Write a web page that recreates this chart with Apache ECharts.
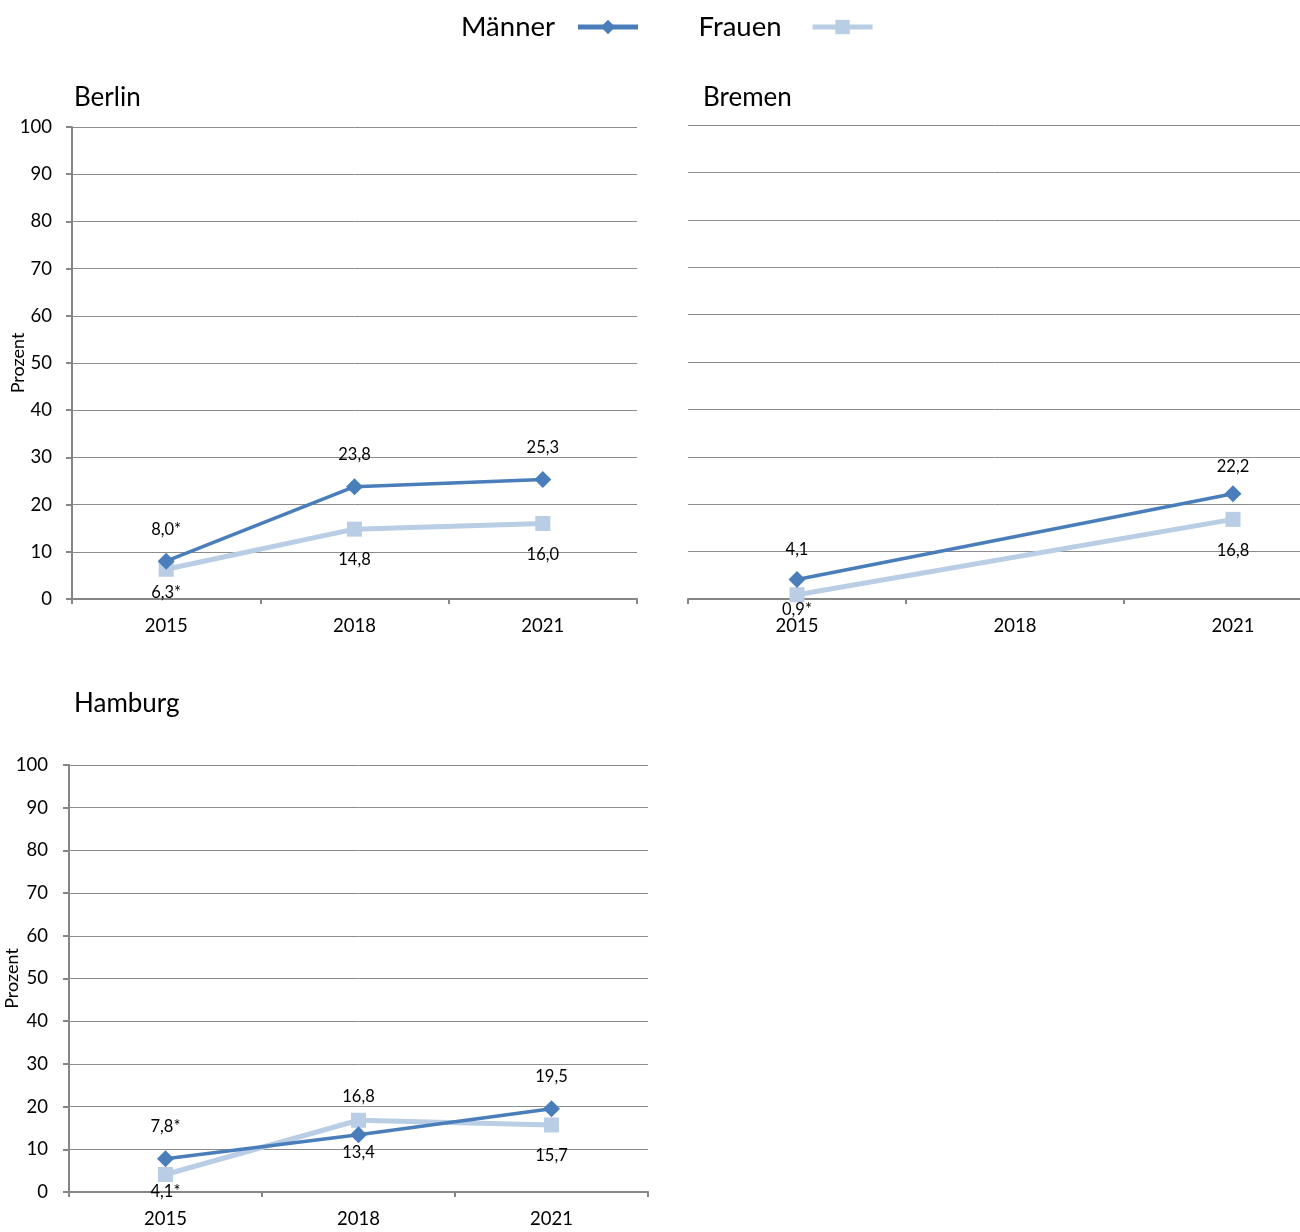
<!DOCTYPE html>
<html><head><meta charset="utf-8">
<script src="https://cdn.jsdelivr.net/npm/echarts@6/dist/echarts.min.js"></script>
<style>html,body{margin:0;padding:0;background:#fff}#c{width:1300px;height:1232px}</style>
</head><body><div id="c"></div>
<script>
// ---- data ----
const years = ['2015', '2018', '2021'];
const panelNames = ['Berlin', 'Bremen', 'Hamburg'];
const seriesNames = ['Männer', 'Frauen'];
const berlinMaenner = [8.0, 23.8, 25.3];
const berlinFrauen = [6.3, 14.8, 16.0];
const bremenMaenner = [4.1, null, 22.2];
const bremenFrauen = [0.9, null, 16.8];
const hamburgMaenner = [7.8, 13.4, 19.5];
const hamburgFrauen = [4.1, 16.8, 15.7];
const berlinMaennerStar = [true, false, false];
const berlinFrauenStar = [true, false, false];
const bremenMaennerStar = [false, false, false];
const bremenFrauenStar = [true, false, false];
const hamburgMaennerStar = [true, false, false];
const hamburgFrauenStar = [true, false, false];

// ---- layout / style ----
const FONT = 'Lato';
const C_M = '#4a7ebb', C_F = '#b9cde5';
const panels = [
  {m: berlinMaenner, f: berlinFrauen, ms: berlinMaennerStar, fs: berlinFrauenStar,
   grid: {left: 72, top: 127, width: 565, height: 472}, showY: true, nameGap: 45, yMargin: 20,
   title: {left: 69, top: 80}, dist: {m: [15, 15, 15], f: [7, 15, 15]}},
  {m: bremenMaenner, f: bremenFrauen, ms: bremenMaennerStar, fs: bremenFrauenStar,
   grid: {left: 688, top: 125, width: 654, height: 474}, showY: false, nameGap: 45, yMargin: 20,
   title: {left: 698, top: 80}, dist: {m: [13, 15, 10], f: [-1, 15, 15]}},
  {m: hamburgMaenner, f: hamburgFrauen, ms: hamburgMaennerStar, fs: hamburgFrauenStar,
   grid: {left: 69, top: 765, width: 579, height: 427}, showY: true, nameGap: 48, yMargin: 21,
   title: {left: 69, top: 686}, dist: {m: [15, 1, 15], f: [1, 8, 15]}}
];

const fmt = (v, star) => v.toFixed(1).replace('.', ',') + (star ? '*' : '');

const grids = [], xAxes = [], yAxes = [], titles = [], series = [];
panels.forEach((p, i) => {
  grids.push(Object.assign({containLabel: false, outerBoundsMode: 'none'}, p.grid));
  titles.push({text: panelNames[i], left: p.title.left, top: p.title.top,
    textStyle: {fontFamily: FONT, fontSize: 26, fontWeight: 'normal', color: '#000'}});
  xAxes.push({type: 'category', gridIndex: i, data: years, boundaryGap: true,
    axisLine: {show: true, lineStyle: {color: '#868686', width: 2}},
    axisTick: {show: true, length: 5, lineStyle: {color: '#868686', width: 2}},
    axisLabel: {fontFamily: FONT, fontSize: 18.5, color: '#000', margin: 18},
    splitLine: {show: false}});
  yAxes.push({type: 'value', gridIndex: i, min: 0, max: 100, interval: 10,
    name: p.showY ? 'Prozent' : '', nameLocation: 'middle', nameRotate: 90,
    nameGap: p.nameGap, nameMoveOverlap: false,
    nameTextStyle: {fontFamily: FONT, fontSize: 18, color: '#000'},
    axisLine: {show: p.showY, lineStyle: {color: '#868686', width: 2}},
    axisTick: {show: p.showY, length: 6, lineStyle: {color: '#868686', width: 2}},
    axisLabel: {show: p.showY, fontFamily: FONT, fontSize: 18.5, color: '#000', margin: p.yMargin},
    splitLine: {show: true, lineStyle: {color: '#8c8c8c', width: 1}}});
  const mk = (vals, stars, other, dists) => vals.map((v, k) => {
    if (v === null) return null;
    const o = other[k];
    const top = o === null || v >= o;
    return {value: v, label: {position: top ? 'top' : 'bottom', distance: dists[k], formatter: fmt(v, stars[k])}};
  });
  series.push({name: seriesNames[0], type: 'line', xAxisIndex: i, yAxisIndex: i,
    data: mk(p.m, p.ms, p.f, p.dist.m), connectNulls: true, symbol: 'diamond', symbolSize: 17,
    lineStyle: {color: C_M, width: 3.5}, itemStyle: {color: C_M},
    label: {show: true, fontFamily: FONT, fontSize: 16.5, color: '#000'}, z: 3});
  series.push({name: seriesNames[1], type: 'line', xAxisIndex: i, yAxisIndex: i,
    data: mk(p.f, p.fs, p.m, p.dist.f), connectNulls: true, symbol: 'rect', symbolSize: 15,
    lineStyle: {color: C_F, width: 5}, itemStyle: {color: C_F},
    label: {show: true, fontFamily: FONT, fontSize: 16.5, color: '#000'}, z: 2});
});

const chart = echarts.init(document.getElementById('c'), null, {renderer: 'canvas'});
chart.setOption({
  animation: false,
  backgroundColor: '#fff',
  title: titles,
  legend: {top: 8, left: 456, align: 'right', itemGap: 58,
    itemWidth: 60, itemHeight: 18,
    lineStyle: {width: 5},
    data: [
      {name: seriesNames[0], textStyle: {padding: [0, 18, 0, 0]}},
      {name: seriesNames[1], textStyle: {padding: [0, 26, 0, 0]}}
    ],
    textStyle: {fontFamily: FONT, fontSize: 27.5, color: '#000'}},
  grid: grids, xAxis: xAxes, yAxis: yAxes, series: series
});
</script></body></html>
